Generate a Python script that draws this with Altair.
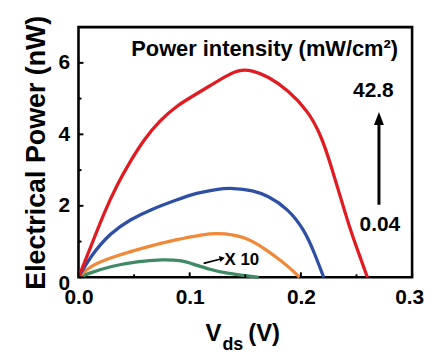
import altair as alt
import pandas as pd

# ---- data ----
red_v = [0, 0.011, 0.0229, 0.0348, 0.0467, 0.0587, 0.0735, 0.0884, 0.1033, 0.1182, 0.133, 0.145, 0.157,
         0.1705, 0.1884, 0.2063, 0.2181, 0.227, 0.236, 0.245, 0.2538, 0.2598]
red_p = [0, 0.85, 1.8, 2.6, 3.25, 3.85, 4.4, 4.8, 5.08, 5.36, 5.64, 5.82, 5.78,
         5.62, 5.24, 4.66, 3.98, 3.14, 2.2, 1.27, 0.52, 0]
blue_v = [0, 0.011, 0.0289, 0.0467, 0.0646, 0.0884, 0.1063, 0.1241, 0.139, 0.157, 0.1705, 0.1884,
          0.2033, 0.2122, 0.2205]
blue_p = [0, 0.6, 1.25, 1.62, 1.89, 2.17, 2.36, 2.47, 2.5, 2.43, 2.28, 1.92, 1.32, 0.68, 0]
orange_v = [0, 0.011, 0.0289, 0.0587, 0.0884, 0.1122, 0.1241, 0.139, 0.149, 0.157, 0.1676, 0.1824,
            0.1913, 0.1988]
orange_p = [0, 0.33, 0.55, 0.83, 1.06, 1.2, 1.23, 1.2, 1.11, 1.0, 0.8, 0.46, 0.23, 0]
green_v = [0, 0.011, 0.0289, 0.0527, 0.0765, 0.0914, 0.1033, 0.1182, 0.133, 0.154, 0.162]
green_p = [0, 0.13, 0.31, 0.45, 0.5, 0.48, 0.37, 0.22, 0.11, 0.03, 0]

series_names = ["42.8", "high", "low", "0.04 (x10)"]
series_colors = ["#e11b22", "#2e4fa3", "#f0893a", "#3f8a64"]

x_major = [0, 0.1, 0.2, 0.3]
x_minor = [0.05, 0.15, 0.25]
y_major = [0, 2, 4, 6]
y_minor = [1, 3, 5]

FONT = "Liberation Sans"
W, H = 336, 252

rows = []
for name, vs, ps in [(series_names[3], green_v, green_p), (series_names[2], orange_v, orange_p),
                     (series_names[1], blue_v, blue_p), (series_names[0], red_v, red_p)]:
    for v, p in zip(vs, ps):
        rows.append({"series": name, "V": v, "P": p})
lines_df = pd.DataFrame(rows)

xscale = alt.Scale(domain=[0, 0.3], nice=False, zero=False)
yscale = alt.Scale(domain=[0, 7], nice=False)

xaxis = alt.Axis(values=x_major, format=".1f", ticks=False, tickSize=0, domain=False, grid=False,
                 labelFont=FONT, labelFontWeight="bold", labelFontSize=21, labelColor="black",
                 labelPadding=9, labelFlush=False, labelOverlap=False, labelBound=False,
                 labelOffset={"condition": {"test": "datum.value >= 0.29", "value": -3}, "value": 0},
                 title="")
yaxis = alt.Axis(values=y_major, format="d", ticks=False, tickSize=0, domain=False, grid=False,
                 labelFont=FONT, labelFontWeight="bold", labelFontSize=21, labelColor="black",
                 labelPadding=9, labelOverlap=False,
                 labelOffset={"condition": {"test": "datum.value === 0", "value": 6}, "value": 0},
                 title="Electrical Power (nW)", titleFont=FONT, titleFontSize=27,
                 titleFontWeight="bold", titleColor="black", titleAngle=270,
                 titleBaseline="alphabetic", titleAlign="center", titleX=-34, titleY=H / 2)


def xenc(field="V"):
    return alt.X(f"{field}:Q", scale=xscale, axis=xaxis)


def yenc(field="P"):
    return alt.Y(f"{field}:Q", scale=yscale, axis=yaxis)


lines = alt.Chart(lines_df).mark_line(strokeWidth=3.3, interpolate="basis").encode(
    x=xenc(), y=yenc(),
    color=alt.Color("series:N", scale=alt.Scale(domain=series_names, range=series_colors),
                    legend=None, sort=series_names),
)

xmaj = alt.Chart(pd.DataFrame({"V": x_major})).mark_rule(color="black", strokeWidth=2).encode(
    x=xenc(), y=alt.value(H), y2=alt.value(H - 5))
xmin = alt.Chart(pd.DataFrame({"V": x_minor})).mark_rule(color="black", strokeWidth=2).encode(
    x=xenc(), y=alt.value(H), y2=alt.value(H - 3))
ymaj = alt.Chart(pd.DataFrame({"P": y_major})).mark_rule(color="black", strokeWidth=2).encode(
    y=yenc(), x=alt.value(0), x2=alt.value(5))
ymin = alt.Chart(pd.DataFrame({"P": y_minor})).mark_rule(color="black", strokeWidth=2).encode(
    y=yenc(), x=alt.value(0), x2=alt.value(3))

# annotations (data coordinates)
title_df = pd.DataFrame({"V": [0.1674], "P": [6.19], "t": ["Power intensity (mW/cm²)"]})
title_txt = alt.Chart(title_df).mark_text(font=FONT, fontWeight="bold", fontSize=22, color="black",
                                          align="center", baseline="alphabetic").encode(
    x=xenc(), y=yenc(), text="t:N")

lab_df = pd.DataFrame({"V": [0.2652, 0.271], "P": [5.22, 1.46], "t": ["42.8", "0.04"]})
lab_txt = alt.Chart(lab_df).mark_text(font=FONT, fontWeight="bold", fontSize=21, color="black",
                                      align="center", baseline="middle").encode(
    x=xenc(), y=yenc(), text="t:N")

arrow_df = pd.DataFrame({"V": [0.2702], "P": [2.03], "P2": [4.3]})
arrow_shaft = alt.Chart(arrow_df).mark_rule(color="black", strokeWidth=3).encode(
    x=xenc(), y=yenc(), y2="P2:Q")
head_df = pd.DataFrame({"V": [0.2702], "P": [4.4]})
arrow_head = alt.Chart(head_df).mark_point(shape="M-1,1L0,-1.6L1,1Z", filled=True, color="black",
                                           size=100, opacity=1).encode(x=xenc(), y=yenc())

x10_df = pd.DataFrame({"V": [0.1313], "P": [0.47], "t": ["X 10"]})
x10_txt = alt.Chart(x10_df).mark_text(font=FONT, fontWeight="bold", fontSize=17, color="black",
                                      align="left", baseline="middle").encode(
    x=xenc(), y=yenc(), text="t:N")
small_df = pd.DataFrame({"V": [0.1125], "P": [0.39], "V2": [0.128], "P2": [0.515]})
small_shaft = alt.Chart(small_df).mark_rule(color="black", strokeWidth=1.6).encode(
    x=xenc(), y=yenc(), x2="V2:Q", y2="P2:Q")
small_head_df = pd.DataFrame({"V": [0.1293], "P": [0.53]})
small_head = alt.Chart(small_head_df).mark_point(shape="triangle-right", filled=True, color="black",
                                                 size=40, angle=345, opacity=1).encode(
    x=xenc(), y=yenc())

# x-axis title with subscript
t_df = pd.DataFrame({"a": [0]})
xt_v = alt.Chart(t_df).mark_text(text="V", font=FONT, fontWeight="bold", fontSize=24, color="black",
                                 align="left", baseline="alphabetic").encode(
    x=alt.value(128), y=alt.value(316))
xt_ds = alt.Chart(t_df).mark_text(text="ds", font=FONT, fontWeight="bold", fontSize=18,
                                  color="black", align="left", baseline="alphabetic").encode(
    x=alt.value(145), y=alt.value(325))
xt_u = alt.Chart(t_df).mark_text(text="(V)", font=FONT, fontWeight="bold", fontSize=24,
                                 color="black", align="left", baseline="alphabetic").encode(
    x=alt.value(171), y=alt.value(316))

chart = alt.layer(
    lines, xmaj, xmin, ymaj, ymin, title_txt, lab_txt, arrow_shaft, arrow_head,
    x10_txt, small_shaft, small_head, xt_v, xt_ds, xt_u
).properties(
    width=W, height=H,
    autosize=alt.AutoSizeParams(type="none"),
    padding={"left": 71, "top": 18, "right": 13, "bottom": 78},
    background="white",
).configure_view(stroke="black", strokeWidth=2.6)

chart.save("out.html", embed_options={"renderer": "svg", "actions": False})
